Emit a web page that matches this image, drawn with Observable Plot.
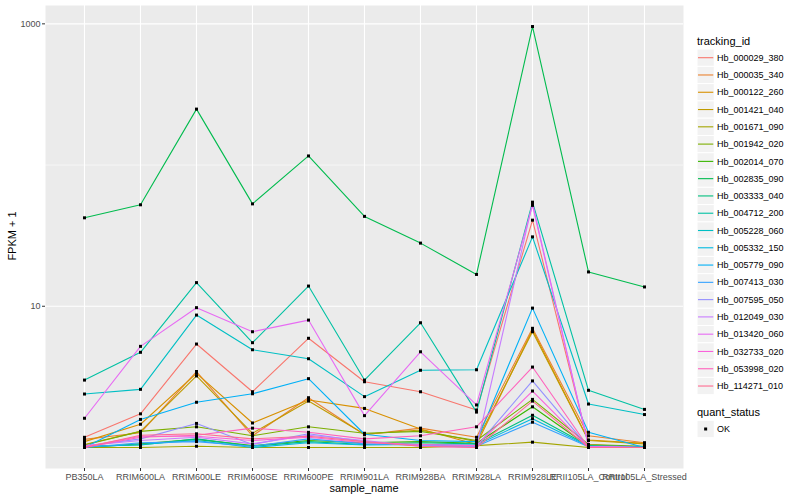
<!DOCTYPE html>
<html><head><meta charset="utf-8">
<script src="https://cdn.jsdelivr.net/npm/d3@7"></script>
<script src="https://cdn.jsdelivr.net/npm/@observablehq/plot@0.6"></script>
<style>
body{margin:0;background:#fff;font-family:"Liberation Sans",Arial,Helvetica,sans-serif;}
#wrap{position:relative;width:800px;height:500px;overflow:hidden;}
#chart{position:absolute;left:0;top:0;}
.atitle{position:absolute;font-size:11px;color:#000;white-space:nowrap;line-height:13px;}
#legend{position:absolute;left:690px;top:0;}
</style></head><body>
<div id="wrap"><div id="chart"></div>
<div class="atitle" id="ytitle" style="left:12px;top:236px;transform:translate(-50%,-50%) rotate(-90deg);transform-origin:center;">FPKM + 1</div>
<div class="atitle" id="xtitle" style="left:364px;top:488px;transform:translate(-50%,-50%);">sample_name</div>
<div id="legend"></div></div>
<script>
const samples = ["PB350LA","RRIM600LA","RRIM600LE","RRIM600SE","RRIM600PE","RRIM901LA","RRIM928BA","RRIM928LA","RRIM928LE","RRII105LA_Control","RRII105LA_Stressed"];
const trackingIds = ["Hb_000029_380","Hb_000035_340","Hb_000122_260","Hb_001421_040","Hb_001671_090","Hb_001942_020","Hb_002014_070","Hb_002835_090","Hb_003333_040","Hb_004712_200","Hb_005228_060","Hb_005332_150","Hb_005779_090","Hb_007413_030","Hb_007595_050","Hb_012049_030","Hb_013420_060","Hb_032733_020","Hb_053998_020","Hb_114271_010"];
const colors = ["#F8766D","#EA8331","#D89000","#C09B00","#A3A500","#7CAE00","#39B600","#00BB4E","#00BF7D","#00C1A3","#00BFC4","#00BAE0","#00B0F6","#35A2FF","#9590FF","#C77CFF","#E76BF3","#FA62DB","#FF62BC","#FF6C91"];
const yTicks = [10, 1000];
const yMinor = [1, 100];
const quantStatus = ["OK"];

// FPKM + 1 per tracking_id, in sample order
const hb_000029_380 = [1.18, 1.73, 5.40, 2.48, 5.93, 2.92, 2.48, 1.84, 40.7, 1.05, 1.00];
const hb_000035_340 = [1.14, 1.27, 3.45, 1.21, 2.25, 1.23, 1.37, 1.18, 6.98, 1.21, 1.08];
const hb_000122_260 = [1.10, 1.46, 3.35, 1.49, 2.17, 1.89, 1.35, 1.05, 6.78, 1.13, 1.07];
const hb_001421_040 = [1.05, 1.30, 3.21, 1.26, 2.13, 1.24, 1.33, 1.10, 6.60, 1.12, 1.06];
const hb_001671_090 = [1.00, 1.00, 1.02, 1.00, 1.00, 1.00, 1.00, 1.03, 1.09, 1.00, 1.00];
const hb_001942_020 = [1.04, 1.30, 1.40, 1.21, 1.40, 1.26, 1.30, 1.12, 2.19, 1.05, 1.02];
const hb_002014_070 = [1.00, 1.06, 1.14, 1.03, 1.12, 1.08, 1.10, 1.07, 1.94, 1.02, 1.00];
const hb_002835_090 = [42.3, 52.3, 249, 53.1, 116, 43.3, 28.0, 16.8, 957, 17.5, 13.7];
const hb_003333_040 = [1.02, 1.04, 1.15, 1.02, 1.10, 1.05, 1.08, 1.06, 1.69, 1.03, 1.01];
const hb_004712_200 = [3.00, 4.72, 14.7, 5.52, 13.9, 3.00, 7.64, 1.78, 54.6, 2.54, 1.86];
const hb_005228_060 = [2.39, 2.58, 8.66, 4.92, 4.25, 2.29, 3.52, 3.55, 31.0, 2.03, 1.71];
const hb_005332_150 = [1.01, 1.05, 1.12, 1.00, 1.08, 1.04, 1.05, 1.04, 1.60, 1.02, 1.00];
const hb_005779_090 = [1.00, 1.58, 2.09, 2.40, 3.07, 1.24, 1.12, 1.10, 9.70, 1.28, 1.00];
const hb_007413_030 = [1.00, 1.08, 1.10, 1.02, 1.15, 1.06, 1.04, 1.02, 1.51, 1.01, 1.00];
const hb_007595_050 = [1.02, 1.15, 1.48, 1.05, 1.25, 1.10, 1.03, 1.02, 2.96, 1.00, 1.00];
const hb_012049_030 = [1.03, 1.12, 1.18, 1.06, 1.22, 1.12, 1.02, 1.00, 53.5, 1.02, 1.00];
const hb_013420_060 = [1.61, 5.20, 9.77, 6.60, 7.98, 1.68, 4.76, 2.00, 51.8, 1.02, 1.00];
const hb_032733_020 = [1.01, 1.20, 1.20, 1.12, 1.18, 1.08, 1.05, 1.03, 2.51, 1.00, 1.00];
const hb_053998_020 = [1.00, 1.18, 1.22, 1.37, 1.28, 1.15, 1.21, 1.40, 3.71, 1.00, 1.00];
const hb_114271_010 = [1.00, 1.22, 1.25, 1.15, 1.20, 1.10, 1.02, 1.00, 2.13, 1.00, 1.00];

const seriesValues = [hb_000029_380, hb_000035_340, hb_000122_260, hb_001421_040, hb_001671_090, hb_001942_020, hb_002014_070, hb_002835_090, hb_003333_040, hb_004712_200, hb_005228_060, hb_005332_150, hb_005779_090, hb_007413_030, hb_007595_050, hb_012049_030, hb_013420_060, hb_032733_020, hb_053998_020, hb_114271_010];

const rows = [];
trackingIds.forEach((id, i) => seriesValues[i].forEach((v, j) => rows.push({tracking_id: id, sample_name: samples[j], value: v, quant_status: "OK"})));

// ggplot-like 5% expansion on log scale
const lmin = Math.log10(d3.min(rows, d => d.value)), lmax = Math.log10(d3.max(rows, d => d.value));
const ex = (lmax - lmin) * 0.05;
const yDomain = [Math.pow(10, lmin - ex), Math.pow(10, lmax + ex)];

const chart = Plot.plot({
  width: 690, height: 500,
  marginLeft: 45, marginRight: 7, marginTop: 5, marginBottom: 32,
  style: {fontFamily: "Liberation Sans, Arial, Helvetica, sans-serif", fontSize: "9px", background: "transparent"},
  x: {type: "point", domain: samples, padding: 0.6},
  y: {type: "log", domain: yDomain},
  color: {domain: trackingIds, range: colors},
  marks: [
    Plot.frame({fill: "#EBEBEB", stroke: null}),
    Plot.gridY(yMinor, {stroke: "white", strokeOpacity: 1, strokeWidth: 0.55}),
    Plot.gridY(yTicks, {stroke: "white", strokeOpacity: 1, strokeWidth: 1.1}),
    Plot.gridX(samples, {stroke: "white", strokeOpacity: 1, strokeWidth: 1.1}),
    Plot.line(rows, {x: "sample_name", y: "value", z: "tracking_id", stroke: "tracking_id", strokeWidth: 1.1}),
    Plot.dot(rows, {x: "sample_name", y: "value", fill: "black", stroke: null, r: 1.7, symbol: "square"}),
    Plot.axisY(yTicks, {tickFormat: d => String(d), tickSize: 3, tickPadding: 2, stroke: "#333333", fill: "#4D4D4D", label: null}),
    Plot.axisX(samples, {tickSize: 3, tickPadding: 2, stroke: "#333333", fill: "#4D4D4D", label: null})
  ]
});
document.getElementById("chart").appendChild(chart);

// legend (ggplot style)
const svg = d3.select("#legend").append("svg").attr("width", 110).attr("height", 500)
  .style("font-family", "Liberation Sans, Arial, Helvetica, sans-serif");
const keyX = 7, keyS = 17.28, labX = keyX + keyS + 2.75;
function title(text, cy) {
  svg.append("text").attr("x", keyX).attr("y", cy).attr("dy", "0.35em").attr("font-size", 11).attr("fill", "#000").text(text);
}
function item(label, cy, color, isPoint) {
  const g = svg.append("g");
  g.append("rect").attr("x", keyX).attr("y", cy - keyS / 2).attr("width", keyS).attr("height", keyS)
    .attr("fill", "#F2F2F2").attr("stroke", "white").attr("stroke-width", 1);
  if (isPoint) {
    g.append("rect").attr("x", keyX + keyS / 2 - 1.5).attr("y", cy - 1.5).attr("width", 3).attr("height", 3).attr("fill", "#000");
  } else {
    g.append("line").attr("x1", keyX + 1).attr("x2", keyX + keyS - 1).attr("y1", cy).attr("y2", cy)
      .attr("stroke", color).attr("stroke-width", 1.1);
  }
  g.append("text").attr("x", labX).attr("y", cy).attr("dy", "0.35em").attr("font-size", 9).attr("fill", "#000").text(label);
}
title("tracking_id", 40.7);
trackingIds.forEach((id, i) => item(id, 57.7 + i * keyS, colors[i], false));
title("quant_status", 412.3);
quantStatus.forEach((s, i) => item(s, 429 + i * keyS, "#000", true));
</script></body></html>
